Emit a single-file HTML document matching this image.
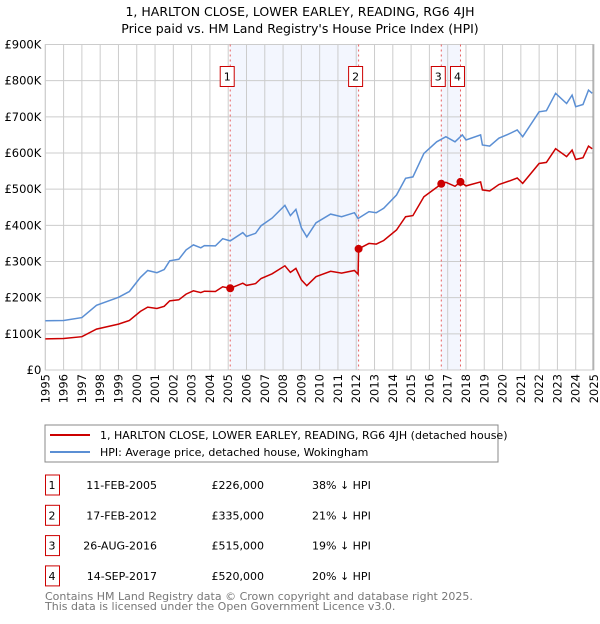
<!DOCTYPE html>
<html><head><meta charset="utf-8"><style>
body{margin:0;background:#fff;width:600px;height:620px;overflow:hidden;font-family:"DejaVu Sans","Liberation Sans",sans-serif}
svg text{font-family:"DejaVu Sans","Liberation Sans",sans-serif}
</style></head><body>
<svg id="c" width="600" height="620" viewBox="0 0 600 620">
<text x="300" y="16" text-anchor="middle" font-size="12.5">1, HARLTON CLOSE, LOWER EARLEY, READING, RG6 4JH</text>
<text x="300" y="33" text-anchor="middle" font-size="12.5">Price paid vs. HM Land Registry's House Price Index (HPI)</text>
<g id="plot"></g>
<rect x="45" y="425" width="453" height="37" fill="#fff" stroke="#888"/>
<line x1="50" y1="435" x2="90" y2="435" stroke="#cc0000" stroke-width="2"/>
<text x="100" y="439" font-size="11">1, HARLTON CLOSE, LOWER EARLEY, READING, RG6 4JH (detached house)</text>
<line x1="50" y1="452" x2="90" y2="452" stroke="#5b8fd4" stroke-width="2"/>
<text x="100" y="456" font-size="11">HPI: Average price, detached house, Wokingham</text>
<g id="table" font-size="11"></g>
<text x="45" y="600" font-size="11" fill="#777">Contains HM Land Registry data © Crown copyright and database right 2025.</text>
<text x="45" y="610" font-size="11" fill="#777">This data is licensed under the Open Government Licence v3.0.</text>
</svg>
<script>
const hpiYears=[1995,1996,1997,1997.8,1999,1999.6,2000.2,2000.6,2001.1,2001.5,2001.8,2002.3,2002.7,2003.1,2003.5,2003.7,2004.3,2004.7,2005.11,2005.8,2006,2006.5,2006.8,2007.4,2008.1,2008.4,2008.7,2009,2009.3,2009.8,2010.6,2011.2,2011.9,2012.1,2012.7,2013.1,2013.5,2014.2,2014.7,2015.1,2015.7,2016.4,2016.9,2017.4,2017.8,2018,2018.8,2018.9,2019.3,2019.8,2020.4,2020.8,2021.1,2022,2022.4,2022.9,2023.5,2023.8,2024,2024.4,2024.7,2024.9];
const hpiValues=[136,137,145,179,201,217,256,275,269,278,302,306,332,346,338,344,343,363,357,380,369,378,399,420,455,427,444,393,368,407,431,424,435,419,438,435,447,484,530,534,599,631,645,631,650,636,650,622,619,641,654,664,645,714,717,765,737,760,728,734,774,765];
const priceYears=[1995,1996,1997,1997.8,1999,1999.6,2000.2,2000.6,2001.1,2001.5,2001.8,2002.3,2002.7,2003.1,2003.5,2003.7,2004.3,2004.7,2005.11,2005.8,2006,2006.5,2006.8,2007.4,2008.1,2008.4,2008.7,2009,2009.3,2009.8,2010.6,2011.2,2011.9,2012.1,2012.13,2012.7,2013.1,2013.5,2014.2,2014.7,2015.1,2015.7,2016.4,2016.65,2016.9,2017.4,2017.7,2018,2018.8,2018.9,2019.3,2019.8,2020.4,2020.8,2021.1,2022,2022.4,2022.9,2023.5,2023.8,2024,2024.4,2024.7,2024.9];
const priceValues=[86,87,92,113,127,137,162,174,170,176,191,194,210,219,214,218,217,230,226,240,234,239,253,266,288,270,281,249,233,258,273,268,275,265,335,350,348,358,387,424,427,479,505,515,519,508,520,509,520,498,495,513,523,531,516,571,574,612,590,608,582,587,619,612];
const saleLabels=["1","2","3","4"];
const saleYears=[2005.11,2012.13,2016.65,2017.7];
const saleValues=[226,335,515,520];
const saleDates=["11-FEB-2005","17-FEB-2012","26-AUG-2016","14-SEP-2017"];
const salePrices=["£226,000","£335,000","£515,000","£520,000"];
const saleDiffs=["38% ↓ HPI","21% ↓ HPI","19% ↓ HPI","20% ↓ HPI"];
const yTicks=[0,100,200,300,400,500,600,700,800,900];
const yTickLabels=["£0","£100K","£200K","£300K","£400K","£500K","£600K","£700K","£800K","£900K"];
const xTicks=[1995,1996,1997,1998,1999,2000,2001,2002,2003,2004,2005,2006,2007,2008,2009,2010,2011,2012,2013,2014,2015,2016,2017,2018,2019,2020,2021,2022,2023,2024,2025];
const X0=45.3,X1=594,Y0=370,Y1=44.5;
const x=v=>X0+(v-1995)/30*(X1-X0);
const y=v=>Y0-v/900*(Y0-Y1);
const NS="http://www.w3.org/2000/svg";
const plot=document.getElementById('plot');
function mk(t,a,p){const e=document.createElementNS(NS,t);for(const k in a)e.setAttribute(k,a[k]);(p||plot).appendChild(e);return e;}
let el=mk('rect',{x:X0,y:Y1,width:X1-X0,height:Y0-Y1,fill:'#fff'});


[[0,1],[2,3]].forEach(([a,b])=>{
 const r=mk('rect',{x:x(saleYears[a]),y:Y1,width:x(saleYears[b])-x(saleYears[a]),height:Y0-Y1,fill:'#f3f6fe'});
 
 
});
yTicks.forEach((v,i)=>{
 const l=mk('line',{x1:X0,x2:X1,y1:y(v),y2:y(v),stroke:'#ccc'});
 
 
 const t=mk('text',{x:X0-4,y:y(v)+4,'text-anchor':'end','font-size':11.5});
 t.textContent=yTickLabels[i];
 
 
});
xTicks.forEach(v=>{
 const l=mk('line',{x1:x(v),x2:x(v),y1:Y1,y2:Y0,stroke:'#ccc'});
 
 
 const tx=x(v)+4,ty=Y0+4;
 const t=mk('text',{x:tx,y:ty,'text-anchor':'end','font-size':11.5,transform:'rotate(-90 '+tx+' '+ty+')'});
 t.textContent=v;
 
 
});
el=mk('rect',{x:X0,y:Y1,width:X1-X0,height:Y0-Y1,fill:'none',stroke:'#ccc'});


el=mk('line',{x1:X1-1,x2:X1-1,y1:Y1,y2:Y0,stroke:'#999'});


saleYears.forEach((s,i)=>{
 const l=mk('line',{x1:x(s),x2:x(s),y1:Y1,y2:Y0,stroke:'#e86060','stroke-dasharray':'2,3'});
 
 
 const r=mk('rect',{x:x(s)-10,y:66.5,width:14,height:20,fill:'#fff',stroke:'#cc0000'});
 
 
 const t=mk('text',{x:x(s)-3,y:80.5,'text-anchor':'middle','font-size':11});
 t.textContent=saleLabels[i];
 
 
});
const pts=(xs,vs)=>xs.map((a,i)=>x(a).toFixed(1)+','+y(vs[i]).toFixed(1)).join(' ');
el=mk('polyline',{points:pts(hpiYears,hpiValues),fill:'none',stroke:'#5b8fd4','stroke-width':1.5});


el=mk('polyline',{points:pts(priceYears,priceValues),fill:'none',stroke:'#cc0000','stroke-width':1.5});


saleYears.forEach((s,i)=>{
 const c=mk('circle',{cx:x(s),cy:y(saleValues[i]),r:4,fill:'#cc0000'});
 
 
});
const tb=document.getElementById('table');
saleLabels.forEach((lab,i)=>{
 const cy=485+i*30.3;
 const r=mk('rect',{x:45.5,y:cy-10,width:14,height:20,fill:'#fff',stroke:'#cc0000'},tb);
 
 
 const cells=[[52,'middle',lab,'row-number'],[157,'end',saleDates[i],'row-date'],[264,'end',salePrices[i],'row-price'],[312,'start',saleDiffs[i],'row-hpi-diff']];
 cells.forEach(([cx,an,tx,nm])=>{
  const t=mk('text',{x:cx,y:cy+4,'text-anchor':an},tb);
  t.textContent=tx;
  
  
 });
});
</script>
</body></html>
